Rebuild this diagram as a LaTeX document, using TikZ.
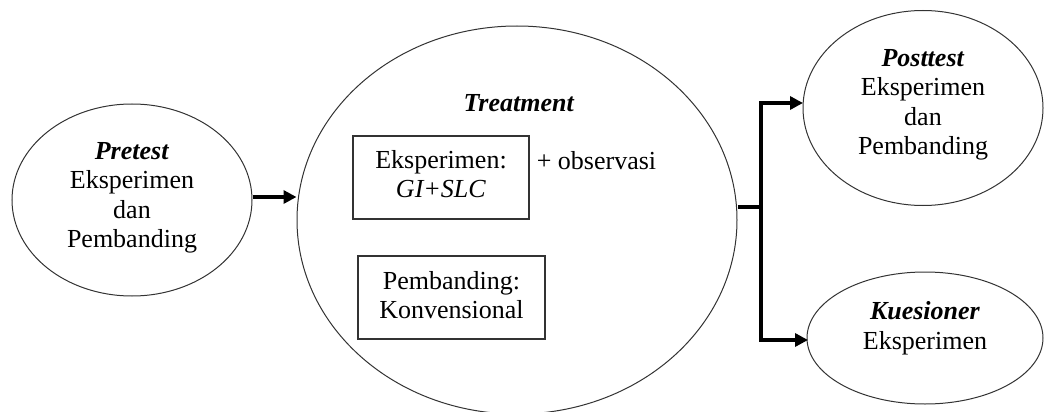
\documentclass[tikz,border=0pt]{standalone}
\usepackage{fontspec}
\setmainfont{Liberation Serif}
\usetikzlibrary{shapes.geometric,arrows.meta}
\begin{document}
\begin{tikzpicture}[x=1pt,y=-1pt,
  oval/.style={draw=black!80,line width=1pt,ellipse,inner sep=0pt},
  txt/.style={font=\fontsize{26}{29.5}\selectfont,align=center,inner sep=0pt},
  frame/.style={draw=black!80,line width=1.3pt,inner sep=0pt},
  link/.style={line width=3.6pt,draw=black},
  arr/.style={link,-{Triangle[length=13pt,width=13pt]}}]
\useasboundingbox (0,0) rectangle (1045,412);
% ellipses
\node[oval,minimum width=240pt,minimum height=192pt] (pre) at (132,200) {};
\node[oval,minimum width=440pt,minimum height=388pt] (treat) at (517,220) {};
\node[oval,minimum width=240pt,minimum height=195pt] (post) at (923,108) {};
\node[oval,minimum width=236pt,minimum height=132pt] (kues) at (925,338) {};
% texts in ellipses
\node[txt] (pretxt) at (132,198) {\textbf{\textit{Pretest}}\\Eksperimen\\dan\\Pembanding};
\node[txt] (posttxt) at (923,105) {\textbf{\textit{Posttest}}\\Eksperimen\\dan\\Pembanding};
\node[txt] (kuestxt) at (925,328) {\textbf{\textit{Kuesioner}}\\Eksperimen};
\node[txt] (treattxt) at (519,103) {\textbf{\textit{Treatment}}};
% boxes
\node[frame,minimum width=176pt,minimum height=83pt] (box1) at (441,177.5) {};
\node[txt] (box1txt) at (441,174) {Eksperimen:\\\textit{GI+SLC}};
\node[frame,minimum width=187pt,minimum height=83pt] (box2) at (451.5,297.5) {};
\node[txt] (box2txt) at (451.5,295) {Pembanding:\\Konvensional};
\node[txt] (obs) at (596.5,161) {+ observasi};
% connectors
\draw[arr] (pre.east |- 0,197) -- (treat.west |- 0,197);
\coordinate (split) at (761,207);
\coordinate (pa) at (803,103);
\coordinate (ka) at (808,340);
\draw[link] (treat.east |- split) -- (split);
\draw[arr] (split) |- (pa);
\draw[arr] (split) |- (ka);
\end{tikzpicture}
\end{document}
